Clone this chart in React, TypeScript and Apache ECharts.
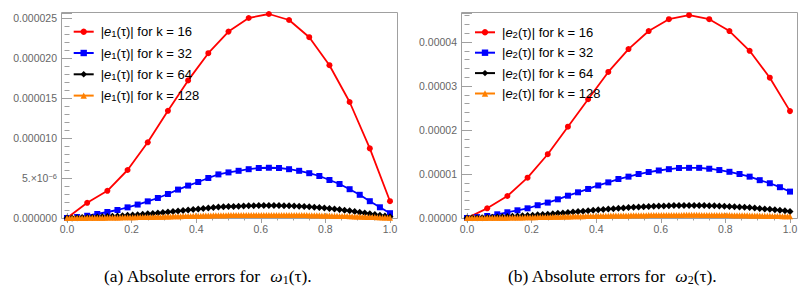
import React, { useEffect, useRef } from "react";
import * as echarts from "echarts";

// Values in units of 1e-6
const K_VALUES = [16, 32, 64, 128];

const e1k16 = [0, 1.9, 3.4, 6.0, 9.46, 13.4, 17.2, 20.6, 23.3, 25.0, 25.5, 24.75, 22.6, 19.1, 14.5, 8.7, 2.1];
const e1k32 = [0, 0.12, 0.28, 0.5, 0.75, 1.0, 1.33, 1.68, 2.08, 2.5, 3.0, 3.55, 4.05, 4.5, 5.0, 5.45, 5.7, 5.9, 6.1, 6.25, 6.28, 6.25, 6.1, 5.9, 5.6, 5.25, 4.75, 4.25, 3.6, 2.9, 2.1, 1.34, 0.6];
const e1k64 = [0, 0.015, 0.03, 0.05, 0.07, 0.1, 0.125, 0.16, 0.19, 0.22, 0.25, 0.29, 0.33, 0.375, 0.42, 0.47, 0.52, 0.57, 0.625, 0.69, 0.75, 0.82, 0.89, 0.95, 1.01, 1.07, 1.125, 1.19, 1.25, 1.3, 1.36, 1.395, 1.425, 1.45, 1.475, 1.5, 1.525, 1.545, 1.56, 1.565, 1.57, 1.565, 1.56, 1.545, 1.525, 1.51, 1.475, 1.44, 1.4, 1.355, 1.31, 1.25, 1.19, 1.125, 1.06, 0.98, 0.9, 0.81, 0.725, 0.625, 0.525, 0.43, 0.335, 0.24, 0.15];
const e1k128 = [
  0, 0, 0, 0.01, 0.01, 0.01, 0.01, 0.01, 0.02, 0.02, 0.02, 0.03, 0.03, 0.04, 0.04, 0.04,
  0.05, 0.05, 0.06, 0.06, 0.06, 0.07, 0.08, 0.08, 0.09, 0.09, 0.1, 0.1, 0.11, 0.11, 0.12, 0.12,
  0.13, 0.14, 0.14, 0.15, 0.16, 0.16, 0.17, 0.18, 0.19, 0.2, 0.21, 0.21, 0.22, 0.23, 0.24, 0.25,
  0.25, 0.26, 0.27, 0.27, 0.28, 0.29, 0.3, 0.3, 0.31, 0.32, 0.33, 0.33, 0.34, 0.34, 0.35, 0.35,
  0.36, 0.36, 0.36, 0.37, 0.37, 0.37, 0.38, 0.38, 0.38, 0.38, 0.39, 0.39, 0.39, 0.39, 0.39, 0.39,
  0.39, 0.39, 0.39, 0.39, 0.39, 0.39, 0.39, 0.38, 0.38, 0.38, 0.38, 0.37, 0.37, 0.37, 0.36, 0.36,
  0.35, 0.35, 0.34, 0.34, 0.33, 0.32, 0.31, 0.31, 0.3, 0.29, 0.28, 0.27, 0.26, 0.26, 0.25, 0.24,
  0.22, 0.21, 0.2, 0.19, 0.18, 0.17, 0.16, 0.14, 0.13, 0.12, 0.11, 0.1, 0.08, 0.07, 0.06, 0.05,
  0.04,
];

const e2k16 = [0, 2.2, 5.0, 9.16, 14.5, 20.75, 27.0, 33.2, 38.4, 42.5, 45.2, 46.1, 45.2, 42.5, 38.0, 31.9, 24.3];
const e2k32 = [0, 0.2, 0.45, 0.84, 1.3, 1.75, 2.2, 2.9, 3.5, 4.25, 5.07, 5.84, 6.6, 7.4, 8.1, 8.86, 9.4, 10.0, 10.45, 10.8, 11.1, 11.36, 11.4, 11.4, 11.2, 10.9, 10.5, 10.0, 9.4, 8.6, 7.9, 7.0, 6.0];
const e2k64 = [0, 0.03, 0.05, 0.08, 0.11, 0.16, 0.21, 0.27, 0.33, 0.38, 0.44, 0.5, 0.56, 0.64, 0.73, 0.8, 0.88, 0.97, 1.07, 1.16, 1.27, 1.37, 1.46, 1.56, 1.66, 1.76, 1.86, 1.94, 2.03, 2.12, 2.22, 2.28, 2.36, 2.43, 2.51, 2.56, 2.62, 2.66, 2.71, 2.74, 2.78, 2.82, 2.85, 2.86, 2.86, 2.86, 2.86, 2.83, 2.81, 2.77, 2.73, 2.68, 2.63, 2.56, 2.5, 2.43, 2.36, 2.26, 2.16, 2.07, 1.98, 1.86, 1.75, 1.63, 1.5];
const e2k128 = [
  0, 0.01, 0.01, 0.01, 0.01, 0.02, 0.02, 0.02, 0.03, 0.03, 0.04, 0.05, 0.05, 0.06, 0.07, 0.08,
  0.08, 0.09, 0.1, 0.11, 0.11, 0.13, 0.14, 0.15, 0.16, 0.17, 0.18, 0.19, 0.2, 0.21, 0.22, 0.23,
  0.24, 0.25, 0.27, 0.28, 0.29, 0.3, 0.32, 0.33, 0.34, 0.35, 0.37, 0.38, 0.39, 0.4, 0.42, 0.43,
  0.44, 0.45, 0.47, 0.48, 0.49, 0.5, 0.51, 0.52, 0.53, 0.54, 0.55, 0.56, 0.57, 0.57, 0.58, 0.59,
  0.59, 0.6, 0.61, 0.62, 0.63, 0.63, 0.64, 0.65, 0.66, 0.66, 0.67, 0.68, 0.68, 0.69, 0.69, 0.7,
  0.7, 0.7, 0.71, 0.71, 0.71, 0.71, 0.72, 0.72, 0.72, 0.72, 0.72, 0.72, 0.72, 0.71, 0.71, 0.71,
  0.71, 0.7, 0.7, 0.7, 0.69, 0.68, 0.68, 0.67, 0.66, 0.65, 0.64, 0.63, 0.63, 0.62, 0.61, 0.6,
  0.59, 0.58, 0.57, 0.55, 0.54, 0.53, 0.52, 0.5, 0.49, 0.48, 0.47, 0.45, 0.44, 0.42, 0.41, 0.39,
  0.38,
];

const LEFT_Y_MAX = 25.625;
const RIGHT_Y_MAX = 46.6;

const COLORS = ["#ff0000", "#0000ff", "#000000", "#ff8000"];
const SYMBOLS = ["circle", "rect", "diamond", "triangle"];
const SYMBOL_SIZES = [6, 6, 7, 6];
const LINE_WIDTHS = [1.8, 1.8, 1.5, 1.5];

const SANS = "'Liberation Sans', Arial, sans-serif";
const SERIF = "'Liberation Serif', 'Times New Roman', serif";
const FRAME = "#a0a0a0";
const LABEL = "#666666";

function pts(vals: number[]) {
  const n = vals.length - 1;
  return vals.map((v, i) => [i / n, v]);
}

function xAxes(gridIndex: number) {
  const common = {
    type: "value",
    gridIndex,
    min: 0,
    max: 1,
    interval: 0.2,
    axisLine: { show: false },
    splitLine: { show: false },
    axisTick: { show: true, inside: true, length: 5, lineStyle: { color: FRAME } },
    minorTick: { show: true, splitNumber: 4, length: 2.5, lineStyle: { color: FRAME } },
  };
  return [
    {
      ...common,
      position: "bottom",
      axisLabel: {
        show: true,
        margin: 5,
        color: LABEL,
        fontSize: 10.5,
        fontFamily: SANS,
        formatter: (v: number) => v.toFixed(1),
      },
    },
    { ...common, position: "top", axisLabel: { show: false } },
  ];
}

function yAxes(gridIndex: number, max: number, interval: number, fmt: (v: number) => string, offL: number, offR: number) {
  const common = {
    type: "value",
    gridIndex,
    min: 0,
    max,
    interval,
    axisLine: { show: false },
    splitLine: { show: false },
    axisTick: { show: true, inside: true, length: 5, lineStyle: { color: FRAME } },
    minorTick: { show: true, splitNumber: 5, length: 2.5, lineStyle: { color: FRAME } },
  };
  return [
    {
      ...common,
      position: "left",
      offset: offL,
      axisLabel: {
        show: true,
        margin: 5,
        showMaxLabel: false,
        color: LABEL,
        fontSize: 10.5,
        fontFamily: SANS,
        formatter: fmt,
        rich: {
          m: { fontSize: 10.5, fontFamily: SANS, color: LABEL, lineHeight: 12 },
          s: { fontSize: 7.5, fontFamily: SANS, color: LABEL, verticalAlign: "top" },
        },
      },
    },
    { ...common, position: "right", offset: offR, axisLabel: { show: false } },
  ];
}

function legendFor(names: string[], sub: string, left: number, top: number, gap: number) {
  return {
    data: names,
    orient: "vertical",
    left,
    top,
    padding: 0,
    itemWidth: 20,
    itemHeight: 8,
    itemGap: gap,
    selectedMode: false,
    textStyle: {
      fontSize: 13,
      fontFamily: SANS,
      color: "#000",
      lineHeight: 14,
      padding: [0, 0, 0, 2],
      rich: {
        i: { fontSize: 13, fontFamily: SANS, fontStyle: "italic", color: "#000", lineHeight: 14 },
        s: { fontSize: 9.5, fontFamily: SANS, color: "#000", verticalAlign: "bottom" },
      },
    },
    formatter: (name: string) => {
      const k = name.split("= ")[1];
      return `|{i|e}{s|${sub}}(τ)| for k = ${k}`;
    },
  };
}

function caption(label: string, sub: string, x: number) {
  return {
    type: "text",
    x,
    y: 276,
    silent: true,
    style: {
      text: `{n|(${label}) Absolute errors for }{w|ω}{s|${sub}}{n|(τ).}`,
      align: "left",
      verticalAlign: "middle",
      fill: "#000",
      font: `17.5px ${SERIF}`,
      rich: {
        n: { fontSize: 17.5, fontFamily: SERIF, fill: "#000", lineHeight: 19 },
        w: { fontSize: 17.5, fontFamily: SERIF, fontStyle: "italic", fill: "#000", lineHeight: 19, padding: [0, 0, 0, 5] },
        s: { fontSize: 12, fontFamily: SERIF, fill: "#000", verticalAlign: "bottom" },
      },
    },
  };
}

export default function App() {
  const ref = useRef<HTMLDivElement>(null);

  useEffect(() => {
    document.body.style.margin = "0";
    if (!ref.current) return;
    const chart = echarts.init(ref.current, undefined, { renderer: "svg" });

    const leftData = [e1k16, e1k32, e1k64, e1k128];
    const rightData = [e2k16, e2k32, e2k64, e2k128];
    const leftNames = K_VALUES.map((k) => `|e1(τ)| for k = ${k}`);
    const rightNames = K_VALUES.map((k) => `|e2(τ)| for k = ${k}`);

    const mk = (name: string, data: number[], i: number, xIdx: number, yIdx: number) => ({
      type: "line",
      name,
      data: pts(data),
      xAxisIndex: xIdx,
      yAxisIndex: yIdx,
      symbol: SYMBOLS[i],
      symbolSize: SYMBOL_SIZES[i],
      showSymbol: true,
      color: COLORS[i],
      itemStyle: { color: COLORS[i] },
      lineStyle: { color: COLORS[i], width: LINE_WIDTHS[i] },
      emphasis: { disabled: true },
    });

    const series = [
      ...leftData.map((d, i) => mk(leftNames[i], d, i, 0, 0)),
      ...rightData.map((d, i) => mk(rightNames[i], d, i, 2, 2)),
    ];

    const option = {
      animation: false,
      grid: [
        { left: 67, right: 419, top: 13, bottom: 76, containLabel: false, outerBoundsMode: "none" },
        { left: 467, right: 19, top: 13, bottom: 76, containLabel: false, outerBoundsMode: "none" },
      ],
      xAxis: [...xAxes(0), ...xAxes(1)],
      yAxis: [
        ...yAxes(
          0,
          LEFT_Y_MAX,
          5,
          (v: number) => (Math.abs(v - 5) < 1e-9 ? "{m|5.×10}{s|−6}" : (v * 1e-6).toFixed(6)),
          5,
          7
        ),
        ...yAxes(1, RIGHT_Y_MAX, 10, (v: number) => (v * 1e-6).toFixed(5), 5, 8),
      ],
      legend: [
        legendFor(leftNames, "1", 72.7, 24.7, 7.3),
        legendFor(rightNames, "2", 474, 25.3, 6.4),
      ],
      tooltip: { show: false },
      graphic: [
        {
          type: "rect",
          silent: true,
          z: 0,
          shape: { x: 61.5, y: 12.5, width: 336, height: 206 },
          style: { fill: "none", stroke: FRAME, lineWidth: 1 },
        },
        {
          type: "rect",
          silent: true,
          z: 0,
          shape: { x: 461.5, y: 12.5, width: 336, height: 206 },
          style: { fill: "none", stroke: FRAME, lineWidth: 1 },
        },
        caption("a", "1", 104),
        caption("b", "2", 508),
      ],
      series,
    };

    chart.setOption(option as any);
    return () => chart.dispose();
  }, []);

  return <div ref={ref} style={{ width: 809, height: 294, background: "#fff" }} />;
}
